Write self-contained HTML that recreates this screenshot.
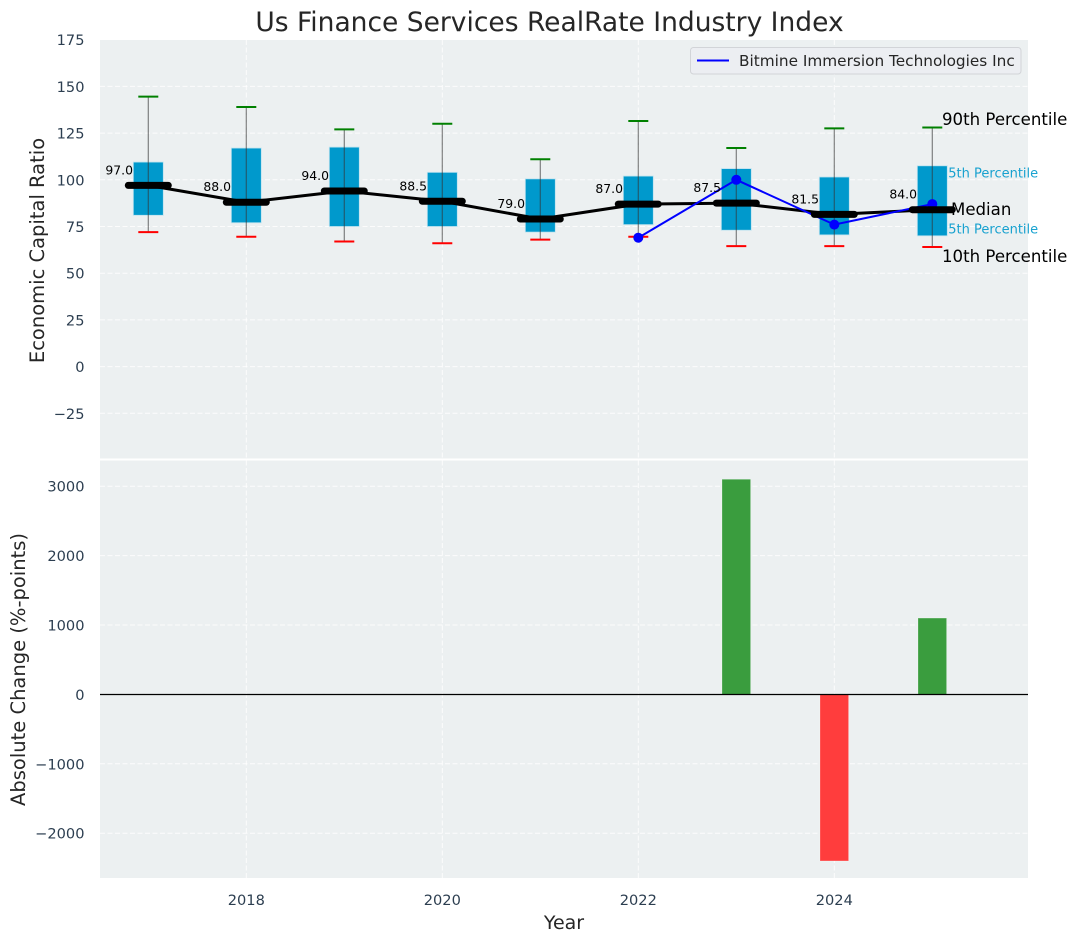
<!DOCTYPE html>
<html lang="en">
<head>
<meta charset="utf-8">
<title>Us Finance Services RealRate Industry Index</title>
<style>
html,body{margin:0;padding:0;background:#fff;}
svg{display:block;font-family:"DejaVu Sans","Liberation Sans",sans-serif;}
</style>
</head>
<body>
<svg id="chart" width="1077" height="942" viewBox="0 0 1077 942" xmlns="http://www.w3.org/2000/svg">
<text x="549.5" y="31" text-anchor="middle" font-size="26.5" fill="#262626">Us Finance Services RealRate Industry Index</text>
<text transform="translate(44,250.5) rotate(-90)" text-anchor="middle" font-size="19.5" fill="#262626">Economic Capital Ratio</text>
<text transform="translate(25,669.5) rotate(-90)" text-anchor="middle" font-size="19.5" fill="#262626">Absolute Change (%-points)</text>
<text x="564" y="929" text-anchor="middle" font-size="19" fill="#262626">Year</text>
</svg>
<script>
const years = [2017, 2018, 2019, 2020, 2021, 2022, 2023, 2024, 2025];
const p90 = [144.5, 139, 127, 130, 111, 131.5, 117, 127.5, 128];
const p75 = [109.5, 117, 117.5, 104, 100.5, 102, 106, 101.5, 107.5];
const medians = [97, 88, 94, 88.5, 79, 87, 87.5, 81.5, 84];
const p25 = [81, 77, 75, 75, 72, 76, 73, 70.5, 70];
const p10 = [72, 69.5, 67, 66, 68, 69.5, 64.5, 64.5, 64];
const companyYears = [2022, 2023, 2024, 2025];
const companyValues = [69, 100, 76, 87];
const changeYears = [2023, 2024, 2025];
const changeValues = [3100, -2400, 1100];
const xTicks = [2018, 2020, 2022, 2024];
const topYTicks = [175, 150, 125, 100, 75, 50, 25, 0, -25];
const bottomYTicks = [3000, 2000, 1000, 0, -1000, -2000];

const svg = document.getElementById('chart');
const NS = 'http://www.w3.org/2000/svg';
const X = v => 246.3 + (v - 2018) * 98;
const YT = v => 366.6 - v * 1.868;
const YB = v => 694.4 - v * 0.0694;
const fmt = v => String(v).replace('-', '\u2212');

function make(tag, attrs, parent) {
  const el = document.createElementNS(NS, tag);
  for (const k in attrs) el.setAttribute(k, attrs[k]);
  (parent || svg).appendChild(el);
  return el;
}
function label(str, attrs) {
  const el = make('text', attrs);
  el.textContent = str;
  return el;
}
const L = 100, R = 1028, TT = 40, TB = 458.5, BT = 460.5, BB = 878;

let el = make('rect', {x: L, y: TT, width: R - L, height: TB - TT, fill: '#ecf0f1'});


el = make('rect', {x: L, y: BT, width: R - L, height: BB - BT, fill: '#ecf0f1'});



const gridStyle = {stroke: '#ffffff', 'stroke-width': 1, 'stroke-dasharray': '5 2.5', opacity: 0.85};
topYTicks.forEach(t => {
  if (t < 175) {
    const g = make('line', Object.assign({x1: L, x2: R, y1: YT(t), y2: YT(t)}, gridStyle));
    
    
  }
  const tx = label(fmt(t), {x: 84.5, y: YT(t) + 5.5, 'text-anchor': 'end', 'font-size': 14.6, fill: '#2c3e50'});
  
  
});
bottomYTicks.forEach(t => {
  const g = make('line', Object.assign({x1: L, x2: R, y1: YB(t), y2: YB(t)}, gridStyle));
  
  
  const tx = label(fmt(t), {x: 84.5, y: YB(t) + 5.5, 'text-anchor': 'end', 'font-size': 14.6, fill: '#2c3e50'});
  
  
});
xTicks.forEach(t => {
  const g1 = make('line', Object.assign({x1: X(t), x2: X(t), y1: TT, y2: TB}, gridStyle));
  
  
  const g2 = make('line', Object.assign({x1: X(t), x2: X(t), y1: BT, y2: BB}, gridStyle));
  
  
  const tx = label(String(t), {x: X(t), y: 905, 'text-anchor': 'middle', 'font-size': 14.6, fill: '#2c3e50'});
  
  
});

/* blue percentile labels sit behind the boxes */
el = label('75th Percentile', {x: 940, y: 177.5, 'font-size': 13, fill: '#0099cc', opacity: 0.9});


el = label('25th Percentile', {x: 940, y: 233.5, 'font-size': 13, fill: '#0099cc', opacity: 0.9});



years.forEach((yr, i) => {
  const cx = X(yr);
  const box = make('rect', {x: cx - 15, y: YT(p75[i]), width: 30, height: YT(p25[i]) - YT(p75[i]), fill: '#0099cc', stroke: '#bfe3ef', 'stroke-width': 0.8});
  
  
  const whisker = make('line', {x1: cx, x2: cx, y1: YT(p90[i]), y2: YT(p10[i]), stroke: '#333333', 'stroke-opacity': 0.6, 'stroke-width': 1.2});
  
  
  const capHi = make('line', {x1: cx - 10, x2: cx + 10, y1: YT(p90[i]), y2: YT(p90[i]), stroke: '#008000', 'stroke-width': 2});
  
  
  const capLo = make('line', {x1: cx - 10, x2: cx + 10, y1: YT(p10[i]), y2: YT(p10[i]), stroke: '#ff0000', 'stroke-width': 2});
  
  
});

const medianPath = make('polyline', {points: years.map((y, i) => X(y) + ',' + YT(medians[i])).join(' '), fill: 'none', stroke: '#000000', 'stroke-width': 3});



const companyLine = make('polyline', {points: companyYears.map((y, i) => X(y) + ',' + YT(companyValues[i])).join(' '), fill: 'none', stroke: '#0000ff', 'stroke-width': 2});


companyYears.forEach((y, i) => {
  const dot = make('circle', {cx: X(y), cy: YT(companyValues[i]), r: 5, fill: '#0000ff'});
  
  
});

years.forEach((yr, i) => {
  const cx = X(yr);
  const med = make('line', {x1: cx - 20, x2: cx + 20, y1: YT(medians[i]), y2: YT(medians[i]), stroke: '#000000', 'stroke-width': 7, 'stroke-linecap': 'round'});
  
  
  const tx = label(medians[i].toFixed(1), {x: cx - 15.3, y: YT(medians[i]) - 11, 'text-anchor': 'end', 'font-size': 12.4, fill: '#000000'});
  
  
});

el = label('90th Percentile', {x: 942, y: 125, 'font-size': 16.6, fill: '#000000'});


el = label('Median', {x: 951, y: 215, 'font-size': 16.6, fill: '#000000'});


el = label('10th Percentile', {x: 942, y: 262, 'font-size': 16.6, fill: '#000000'});



el = make('rect', {x: 690.5, y: 47.5, width: 330.5, height: 26.5, rx: 3, fill: '#eceef2', stroke: '#d2d4d8', 'stroke-width': 1});


el = make('line', {x1: 697, x2: 729, y1: 60.5, y2: 60.5, stroke: '#0000ff', 'stroke-width': 2});


el = label('Bitmine Immersion Technologies Inc', {x: 739, y: 66, 'font-size': 15.3, fill: '#262626'});



changeYears.forEach((yr, i) => {
  const v = changeValues[i];
  const y0 = Math.min(YB(v), YB(0));
  const bar = make('rect', {x: X(yr) - 14.3, y: y0, width: 28.6, height: Math.abs(YB(v) - YB(0)), fill: v >= 0 ? '#3a9d3e' : '#ff3d3d', stroke: '#ffffff', 'stroke-opacity': 0.3, 'stroke-width': 0.8});
  
  
});
el = make('line', {x1: L, x2: R, y1: 694.5, y2: 694.5, stroke: '#000000', 'stroke-width': 1.2});


</script>
</body>
</html>
